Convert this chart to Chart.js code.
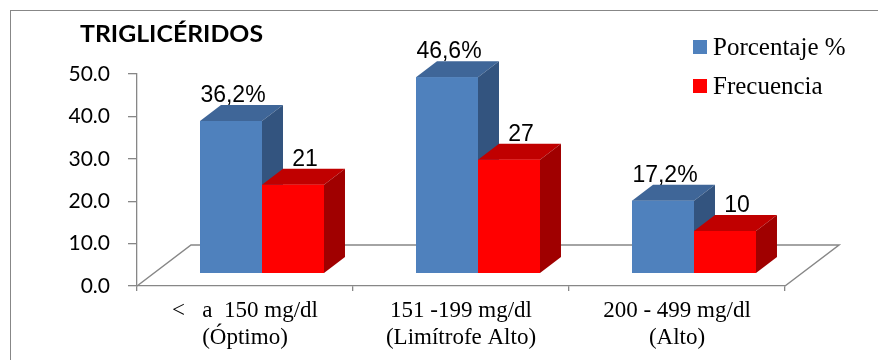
<!DOCTYPE html>
<html>
<head>
<meta charset="utf-8">
<script src="https://cdn.jsdelivr.net/npm/chart.js@4.4.0/dist/chart.umd.min.js"></script>
<style>
  html, body { margin: 0; padding: 0; background: #fff; }
  #wrap { width: 878px; height: 360px; }
</style>
</head>
<body>
<div id="wrap"><canvas id="c" width="878" height="360"></canvas></div>
<script>
// Triglicéridos: porcentaje y frecuencia por rango
const categories = [
  ['<   a  150 mg/dl', '(Óptimo)'],
  ['151 -199 mg/dl', '(Limítrofe Alto)'],
  ['200 - 499 mg/dl', '(Alto)']
];
const porcentaje = [36.2, 46.6, 17.2];
const frecuencia = [21, 27, 10];
const yTicks = [0, 10, 20, 30, 40, 50];

const fmtPct = v => v.toFixed(1).replace('.', ',') + '%';
const fmtInt = v => String(v);

// oblique projection used for the box faces and the floor
const DEPTH = { dx: 21, dy: -16 };
const FLOOR = { dx: 54, dy: -41 };
const SHIFT_X = 17;
const GRAY = '#878787';

function poly(ctx, pts, fill) {
  ctx.beginPath();
  ctx.moveTo(pts[0][0], pts[0][1]);
  for (let k = 1; k < pts.length; k++) ctx.lineTo(pts[k][0], pts[k][1]);
  ctx.closePath();
  ctx.fillStyle = fill;
  ctx.fill();
}

const boxes3d = {
  id: 'boxes3d',
  beforeDraw(chart) {
    const ctx = chart.ctx;
    ctx.save();
    ctx.strokeStyle = GRAY;
    ctx.lineWidth = 1;
    ctx.strokeRect(10.5, 10.5, 1000, 1000);
    ctx.restore();
  },
  beforeDatasetsDraw(chart) {
    const { ctx, chartArea: a } = chart;
    ctx.save();
    ctx.strokeStyle = GRAY;
    ctx.lineWidth = 1.5;
    ctx.beginPath();
    ctx.moveTo(a.left, a.bottom);
    ctx.lineTo(a.left + FLOOR.dx, a.bottom + FLOOR.dy);
    ctx.lineTo(a.right + FLOOR.dx, a.bottom + FLOOR.dy);
    ctx.lineTo(a.right, a.bottom);
    ctx.stroke();
    ctx.restore();
    ctx.save();
    ctx.translate(SHIFT_X, 0);
  },
  afterDatasetsDraw(chart) {
    const ctx = chart.ctx;
    const labels = [];
    chart.data.datasets.forEach((ds, i) => {
      const meta = chart.getDatasetMeta(i);
      meta.data.forEach((bar, j) => {
        const p = bar.getProps(['x', 'y', 'base', 'width'], true);
        const l = p.x - p.width / 2, r = p.x + p.width / 2;
        const t = Math.min(p.y, p.base), b = Math.max(p.y, p.base);
        poly(ctx, [[l, t], [r, t], [r + DEPTH.dx, t + DEPTH.dy], [l + DEPTH.dx, t + DEPTH.dy]], ds.topColor);
        poly(ctx, [[r, t], [r + DEPTH.dx, t + DEPTH.dy], [r + DEPTH.dx, b + DEPTH.dy], [r, b]], ds.sideColor);
        bar.draw(ctx);
        labels.push({ text: ds.fmt(ds.data[j]), x: p.x + ds.labelShift, y: t + DEPTH.dy - 3 });
      });
    });
    ctx.fillStyle = '#000';
    ctx.font = '23px "Liberation Sans", Arial, sans-serif';
    ctx.textAlign = 'center';
    ctx.textBaseline = 'alphabetic';
    labels.forEach(lb => ctx.fillText(lb.text, lb.x, lb.y));
    ctx.restore();
  },
  afterDraw(chart) {
    const ctx = chart.ctx;
    ctx.save();
    // title
    ctx.fillStyle = '#000';
    ctx.font = 'bold 23px Lato, "Open Sans", sans-serif';
    ctx.textBaseline = 'alphabetic';
    ctx.textAlign = 'left';
    const title = 'TRIGLICÉRIDOS';
    const w = ctx.measureText(title).width;
    ctx.translate(80, 42);
    ctx.scale(183 / w, 1);
    ctx.fillText(title, 0, 0);
    ctx.restore();
    // legend
    ctx.save();
    ctx.font = '25px "Liberation Serif", "Times New Roman", serif';
    ctx.textBaseline = 'alphabetic';
    ctx.textAlign = 'left';
    chart.data.datasets.forEach((ds, i) => {
      const y = 55 + i * 39;
      ctx.fillStyle = ds.backgroundColor;
      ctx.fillRect(693, y - 15, 14, 14);
      ctx.fillStyle = '#000';
      ctx.fillText(ds.label, 713, y);
    });
    ctx.restore();
  }
};

new Chart(document.getElementById('c'), {
  type: 'bar',
  data: {
    labels: categories,
    datasets: [
      {
        label: 'Porcentaje %',
        data: porcentaje,
        backgroundColor: '#4F81BD',
        topColor: '#3F6698',
        sideColor: '#33547F',
        fmt: fmtPct,
        labelShift: 2,
        yAxisID: 'y2',
        categoryPercentage: 0.574,
        barPercentage: 1
      },
      {
        label: 'Frecuencia',
        data: frecuencia,
        backgroundColor: '#FF0000',
        topColor: '#C00000',
        sideColor: '#A00000',
        fmt: fmtInt,
        labelShift: 12,
        yAxisID: 'y2',
        categoryPercentage: 0.574,
        barPercentage: 1
      }
    ]
  },
  options: {
    responsive: false,
    animation: false,
    devicePixelRatio: 1,
    layout: { padding: { top: 74, right: 93, left: 0, bottom: 0 } },
    plugins: { legend: { display: false }, title: { display: false }, tooltip: { enabled: false } },
    scales: {
      x: {
        offset: true,
        grid: { drawOnChartArea: false, offset: true, tickLength: 5, color: GRAY, tickColor: GRAY, lineWidth: 1.3 },
        border: { color: GRAY, width: 1.3 },
        ticks: {
          color: '#000',
          padding: 6,
          maxRotation: 0,
          autoSkip: false,
          font: { family: '"Liberation Serif", "Times New Roman", serif', size: 23, lineHeight: 27 / 23 }
        },
        afterFit: s => { s.height = 74; }
      },
      y: {
        min: 0,
        max: 50,
        afterBuildTicks: s => { s.ticks = yTicks.map(v => ({ value: v })); },
        grid: { drawOnChartArea: false, tickLength: 9, color: GRAY, tickColor: GRAY, lineWidth: 1.3 },
        border: { color: GRAY, width: 1.3 },
        ticks: {
          color: '#000',
          padding: 18,
          font: { family: 'Lato, "Open Sans", sans-serif', size: 21 },
          callback: v => Number(v).toFixed(1)
        },
        afterFit: s => { s.width = 137; }
      },
      y2: {
        display: false,
        min: -3.1,
        max: 47.4
      }
    }
  },
  plugins: [boxes3d]
});
</script>
</body>
</html>
